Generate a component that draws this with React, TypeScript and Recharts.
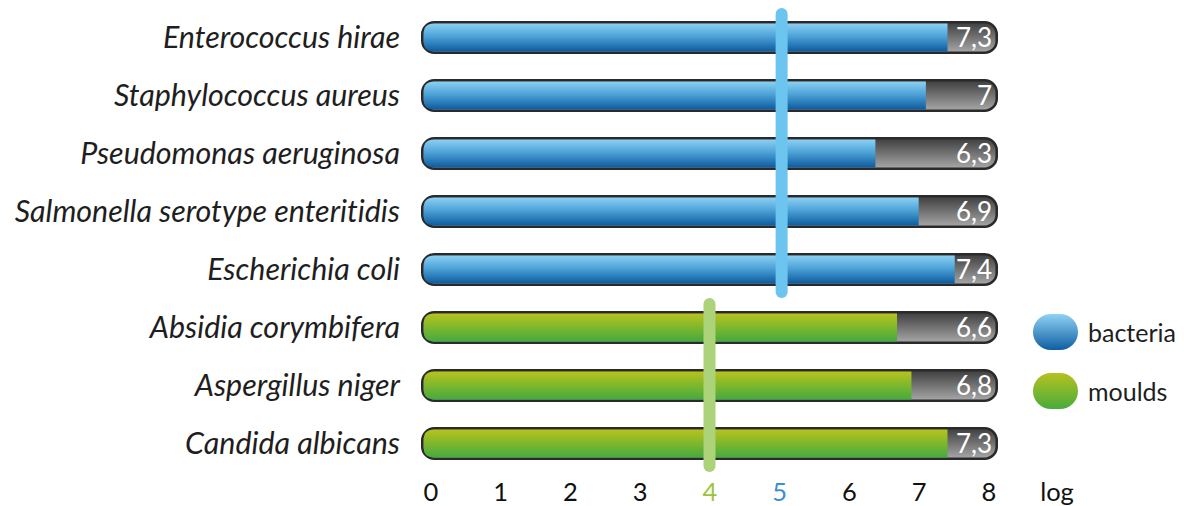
import React from 'react';
import { BarChart, Bar, XAxis, YAxis, ReferenceLine, Legend, Label } from 'recharts';

const categories = [
  'Enterococcus hirae',
  'Staphylococcus aureus',
  'Pseudomonas aeruginosa',
  'Salmonella serotype enteritidis',
  'Escherichia coli',
  'Absidia corymbifera',
  'Aspergillus niger',
  'Candida albicans',
];
const values = [7.3, 7, 6.3, 6.9, 7.4, 6.6, 6.8, 7.3];
const groups = ['bacteria', 'bacteria', 'bacteria', 'bacteria', 'bacteria', 'moulds', 'moulds', 'moulds'];
const xTicks = [0, 1, 2, 3, 4, 5, 6, 7, 8];
const groupNames = ['bacteria', 'moulds'];
const bacteriaThreshold = 5;
const mouldsThreshold = 4;

const data = categories.map((name, i) => ({ name, value: values[i], group: groups[i] }));

const W = 1184;
const H = 506;
const margin = { top: 8, right: 186, bottom: 0, left: 0 };
const PLOT_RIGHT = W - margin.right;
const FONT = 'Lato, "Noto Sans", sans-serif';
const BORDER = 2.6;
const noLig = { fontVariantLigatures: 'none' as const };

const fillFor = (g: string) => (g === 'moulds' ? 'url(#gradGreen)' : 'url(#gradBlue)');

const Track = (props: any) => {
  const { x, y, width, height } = props;
  return (
    <rect
      x={x + BORDER / 2}
      y={y + BORDER / 2}
      width={width - BORDER}
      height={height - BORDER}
      rx={12}
      ry={12}
      fill="url(#gradGray)"
      stroke="#2a2a2a"
      strokeWidth={BORDER}
    />
  );
};

const FillShape = (props: any) => {
  const { x, y, width, height, payload } = props;
  const x0 = x + BORDER;
  const y0 = y + BORDER;
  const h = height - 2 * BORDER;
  const x1 = x + width;
  const r = 10.5;
  const d = `M${x0 + r},${y0} L${x1},${y0} L${x1},${y0 + h} L${x0 + r},${y0 + h} Q${x0},${y0 + h} ${x0},${y0 + h - r} L${x0},${y0 + r} Q${x0},${y0} ${x0 + r},${y0} Z`;
  const label = String(payload.value).replace('.', ',');
  return (
    <g>
      <path d={d} fill={fillFor(payload.group)} />
      <text
        x={PLOT_RIGHT - 6}
        y={y + height / 2}
        dy="0.36em"
        textAnchor="end"
        fill="#ffffff"
        fontFamily={FONT}
        fontSize={26}
      >
        {label}
      </text>
    </g>
  );
};

const YTick = (props: any) => {
  const { y, payload } = props;
  return (
    <text
      x={400}
      y={y}
      dy="0.36em"
      textAnchor="end"
      fill="#1e1e1e"
      fontFamily={FONT}
      fontStyle="italic"
      fontSize={30.4}
      style={noLig}
    >
      {payload.value}
    </text>
  );
};

const XTick = (props: any) => {
  const { x, payload } = props;
  const v = payload.value;
  const color = v === mouldsThreshold ? '#9dc33b' : v === bacteriaThreshold ? '#3b8fd2' : '#111111';
  const xp = 431 + (x - 421) * (558 / 577);
  return (
    <text x={xp} y={501} textAnchor="middle" fill={color} fontFamily={FONT} fontSize={25.5}>
      {v}
    </text>
  );
};

const extendLine = (color: string) => (props: any) => {
  const { x1, y1, x2, y2 } = props;
  const ext = 23;
  return (
    <line
      x1={x1}
      x2={x2}
      y1={Math.min(y1, y2) - ext}
      y2={Math.max(y1, y2) + ext}
      stroke={color}
      strokeWidth={12}
      strokeLinecap="round"
    />
  );
};

const LegendContent = () => (
  <div style={{ fontFamily: FONT }}>
    {groupNames.map((g) => (
      <div key={g} style={{ display: 'flex', alignItems: 'center', height: 59 }}>
        <div
          style={{
            width: 45,
            height: 36,
            borderRadius: 18,
            background:
              g === 'moulds'
                ? 'linear-gradient(#b6c21f, #47ac3d)'
                : 'linear-gradient(#8fd2f3, #0f5ea3)',
          }}
        />
        <span style={{ marginLeft: 10, fontSize: 25, color: '#1e1e1e' }}>{g}</span>
      </div>
    ))}
  </div>
);

export default function App() {
  return (
    <div style={{ position: 'absolute', left: 0, top: 0, width: W, height: H }}>
      <BarChart width={W} height={H} data={data} layout="vertical" margin={margin} barSize={33}>
        <defs>
          <linearGradient id="gradBlue" x1="0" y1="0" x2="0" y2="1">
            <stop offset="0%" stopColor="#8bd0f3" />
            <stop offset="45%" stopColor="#4ea3d8" />
            <stop offset="100%" stopColor="#0d5c9f" />
          </linearGradient>
          <linearGradient id="gradGreen" x1="0" y1="0" x2="0" y2="1">
            <stop offset="0%" stopColor="#b8c21d" />
            <stop offset="100%" stopColor="#44ab3e" />
          </linearGradient>
          <linearGradient id="gradGray" x1="0" y1="0" x2="0" y2="1">
            <stop offset="0%" stopColor="#3e3e3e" />
            <stop offset="100%" stopColor="#a8a8a8" />
          </linearGradient>
        </defs>
        <XAxis
          type="number"
          domain={[0, 8]}
          ticks={xTicks}
          axisLine={false}
          tickLine={false}
          height={34}
          tick={<XTick />}
          interval={0}
        >
          <Label
            content={() => (
              <text x={1057} y={501} textAnchor="middle" fill="#111" fontFamily={FONT} fontSize={25.5}>
                log
              </text>
            )}
          />
        </XAxis>
        <YAxis
          type="category"
          dataKey="name"
          width={421}
          axisLine={false}
          tickLine={false}
          tick={<YTick />}
          interval={0}
        />
        <Bar
          dataKey="value"
          isAnimationActive={false}
          background={(p: any) => <Track {...p} />}
          shape={(p: any) => <FillShape {...p} />}
        />
        <ReferenceLine
          segment={[
            { x: bacteriaThreshold, y: categories[0] },
            { x: bacteriaThreshold, y: categories[4] },
          ]}
          shape={extendLine('#6cc5ee')}
          ifOverflow="visible"
        />
        <ReferenceLine
          segment={[
            { x: mouldsThreshold, y: categories[5] },
            { x: mouldsThreshold, y: categories[7] },
          ]}
          shape={extendLine('#acd27a')}
          ifOverflow="visible"
        />
        <Legend
          layout="vertical"
          align="center"
          verticalAlign="middle"
          content={<LegendContent />}
          wrapperStyle={{ left: 1033, top: 302, width: 150 }}
        />
      </BarChart>
    </div>
  );
}
